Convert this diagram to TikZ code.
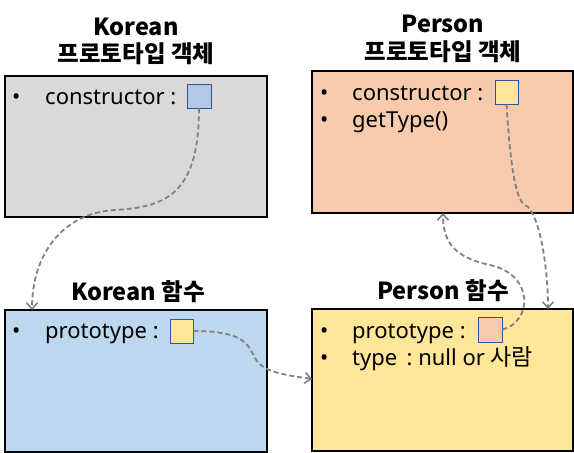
\documentclass[tikz,border=0pt]{standalone}
\usepackage{fontspec}
\setmainfont{Noto Sans}
\newfontfamily\kr{Noto Sans CJK KR}
\usetikzlibrary{arrows.meta}
\definecolor{boxgray}{HTML}{D9D9D9}
\definecolor{boxorange}{HTML}{F8CBAD}
\definecolor{boxblue}{HTML}{BDD7EE}
\definecolor{boxyellow}{HTML}{FFE699}
\definecolor{sqblue}{HTML}{B4C7E7}
\definecolor{sqedge}{HTML}{2F5597}
\definecolor{arrgray}{HTML}{808080}
\tikzset{
  panel/.style={draw=black, line width=1.2pt},
  slot/.style={draw=sqedge, line width=0.9pt},
  title/.style={font=\kr\fontsize{23.5}{26}\selectfont\bfseries, anchor=base, inner sep=0pt},
  item/.style={font=\fontsize{22}{24}\selectfont, anchor=base west, inner sep=0pt},
  link/.style={draw=arrgray, line width=1.8pt, dash pattern=on 5pt off 3pt,
    -{Straight Barb[length=6pt,width=11pt,line width=1.6pt]}}
}
\begin{document}
\begin{tikzpicture}[x=1pt,y=-1pt]
\useasboundingbox (0,0) rectangle (574,453);
% panels
\filldraw[panel, fill=boxgray] (5,76) rectangle (267,217);
\filldraw[panel, fill=boxorange] (312,71) rectangle (573,213);
\filldraw[panel, fill=boxblue] (5,310) rectangle (267,452);
\filldraw[panel, fill=boxyellow] (312,309) rectangle (573,451);
\coordinate (Atop) at (32,310);
\coordinate (Cleft) at (312,379);
\coordinate (Bbot) at (443,213);
\coordinate (Dtop) at (548,309);
% titles
\node[title] (tA1) at (136,35) {Korean};
\node[title] (tA2) at (136,62) {프로토타입 객체};
\node[title] (tB1) at (443,32) {Person};
\node[title] (tB2) at (443,60) {프로토타입 객체};
\node[title] (tC) at (138,300) {Korean 함수};
\node[title] (tD) at (443,299) {Person 함수};
% items
\node[item] (bA) at (12,104) {•};
\node[item] (iA) at (45,104) {constructor :};
\node[item] (bB1) at (320,100) {•};
\node[item] (iB1) at (352,100) {constructor :};
\node[item] (bB2) at (320,127) {•};
\node[item] (iB2) at (352,127) {getType()};
\node[item] (bC) at (12,338) {•};
\node[item] (iC) at (45,338) {prototype :};
\node[item] (bD1) at (320,338) {•};
\node[item] (iD1) at (352,338) {prototype :};
\node[item] (bD2) at (320,365) {•};
\node[item] (iD2) at (352,365) {type\ \,:\ null or {\kr\fontsize{23}{24}\selectfont 사람}};
% slots
\node[slot, fill=sqblue, minimum width=24pt, minimum height=24pt, inner sep=0pt] (sA) at (199,96) {};
\node[slot, fill=boxyellow, minimum width=23pt, minimum height=24pt, inner sep=0pt] (sB) at (506.5,92) {};
\node[slot, fill=boxyellow, minimum width=23pt, minimum height=24pt, inner sep=0pt] (sC) at (181.5,331) {};
\node[slot, fill=boxorange, minimum width=24pt, minimum height=25pt, inner sep=0pt] (sD) at (490,329.5) {};
% links
\draw[link] (sA.south) .. controls (199,195) and (165,207) .. (115,210)
  .. controls (62,213) and (32,255) .. (Atop);
\draw[link] (sC.east) .. controls (245,331) and (248,345) .. (255,358)
  .. controls (262,372) and (285,375) .. (Cleft);
\draw[link] (sD.east) .. controls (532,322) and (535,275) .. (490,265)
  .. controls (452,257) and (443,240) .. (Bbot);
\draw[link] (sB.south) .. controls (510,160) and (515,200) .. (525,205)
  .. controls (540,212) and (548,270) .. (Dtop);
\end{tikzpicture}
\end{document}
